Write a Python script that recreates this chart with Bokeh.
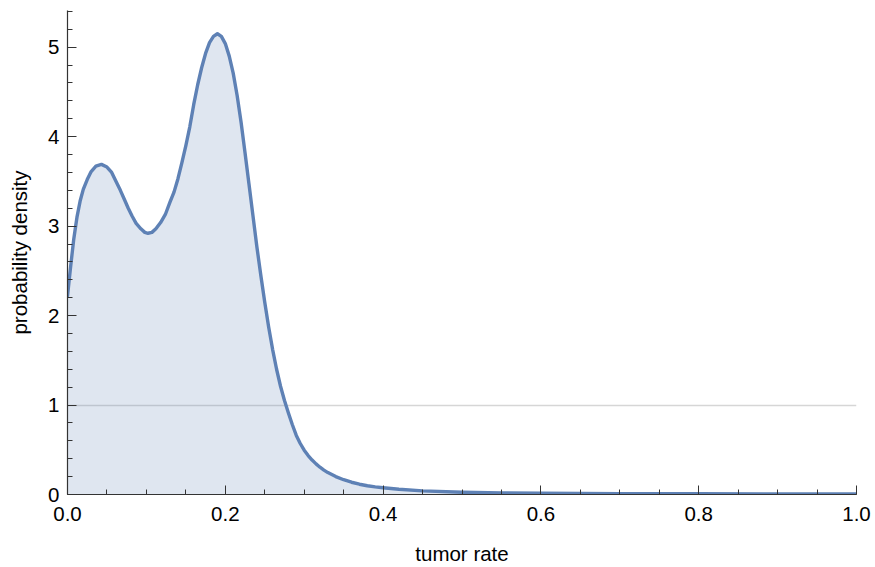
from bokeh.plotting import figure
from bokeh.models import Range1d, FixedTicker
from bokeh.embed import file_html
from bokeh.resources import INLINE

# Density curve sampled along tumor rate
tumor_rate = [
    0.000, 0.004, 0.008, 0.012, 0.016, 0.020, 0.025, 0.030, 0.036, 0.043,
    0.050, 0.056, 0.062, 0.067, 0.072, 0.077, 0.082, 0.087, 0.093, 0.098,
    0.102, 0.107, 0.112, 0.118, 0.124, 0.130, 0.135, 0.140, 0.145, 0.150,
    0.155, 0.160, 0.165, 0.170, 0.175, 0.180, 0.185, 0.190, 0.195, 0.200,
    0.205, 0.210, 0.215, 0.220, 0.225, 0.230, 0.235, 0.240, 0.245, 0.250,
    0.255, 0.260, 0.265, 0.270, 0.275, 0.280, 0.285, 0.290, 0.295, 0.300,
    0.305, 0.310, 0.315, 0.320, 0.325, 0.330, 0.340, 0.350, 0.360, 0.370,
    0.380, 0.390, 0.400, 0.420, 0.450, 0.500, 0.550, 0.600, 0.700, 0.800,
    0.900, 1.000,
]
density = [
    2.22, 2.55, 2.86, 3.10, 3.28, 3.41, 3.52, 3.61, 3.67, 3.69,
    3.66, 3.60, 3.49, 3.40, 3.30, 3.20, 3.11, 3.03, 2.97, 2.93,
    2.92, 2.93, 2.97, 3.04, 3.13, 3.27, 3.38, 3.53, 3.71, 3.90,
    4.11, 4.36, 4.58, 4.77, 4.93, 5.05, 5.12, 5.15, 5.12, 5.04,
    4.90, 4.71, 4.46, 4.16, 3.82, 3.47, 3.12, 2.77, 2.45, 2.15,
    1.87, 1.62, 1.40, 1.21, 1.05, 0.91, 0.78, 0.66, 0.57, 0.495,
    0.435, 0.385, 0.342, 0.305, 0.273, 0.245, 0.200, 0.165, 0.137, 0.115,
    0.098, 0.085, 0.075, 0.058, 0.040, 0.025, 0.018, 0.014, 0.010, 0.008,
    0.006, 0.005,
]

x_major = [0.0, 0.2, 0.4, 0.6, 0.8, 1.0]
x_labels = ["0.0", "0.2", "0.4", "0.6", "0.8", "1.0"]
x_minor = [i * 0.05 for i in range(21)]
y_major = [0, 1, 2, 3, 4, 5]
y_labels = ["0", "1", "2", "3", "4", "5"]
y_minor = [i * 0.2 for i in range(28)]
reference_level = 1.0
x_limit = 1.0

CURVE = "#5E81B5"
FONT = "Liberation Sans"

p = figure(
    width=875, height=567,
    x_range=Range1d(0, 1), y_range=Range1d(0, 5.41),
    output_backend="svg", toolbar_location=None,
    min_border_left=67, min_border_right=19,
    min_border_top=10, min_border_bottom=70,
)
p.outline_line_color = None
p.background_fill_color = "white"
p.border_fill_color = "white"

# Reference lines at density 1 and tumor rate 1
p.xgrid.ticker = FixedTicker(ticks=[x_limit])
p.ygrid.ticker = FixedTicker(ticks=[reference_level])
p.xgrid.grid_line_color = "#D6D6D6"
p.ygrid.grid_line_color = "#D6D6D6"
p.xgrid.grid_line_width = 2
p.ygrid.grid_line_width = 1.3

p.varea(x=tumor_rate, y1=0, y2=density, fill_color=CURVE, fill_alpha=0.2)
p.line(x=tumor_rate, y=density, line_color=CURVE, line_width=3.4,
       line_join="round", line_cap="round")

for ax, major, minor, labels in (
    (p.xaxis[0], x_major, x_minor, x_labels),
    (p.yaxis[0], y_major, y_minor, y_labels),
):
    ax.ticker = FixedTicker(ticks=major, minor_ticks=minor)
    ax.major_label_overrides = {v: t for v, t in zip(major, labels)}
    ax.axis_line_color = "#333333"
    ax.axis_line_width = 1.2
    ax.major_tick_line_color = "#333333"
    ax.minor_tick_line_color = "#333333"
    ax.major_tick_in = 9
    ax.major_tick_out = 0
    ax.minor_tick_in = 5
    ax.minor_tick_out = 0
    ax.major_label_text_font = FONT
    ax.major_label_text_font_size = "20.5px"
    ax.major_label_text_color = "black"
    ax.axis_label_text_font = FONT
    ax.axis_label_text_font_size = "20.5px"
    ax.axis_label_text_font_style = "normal"
    ax.axis_label_text_color = "black"

p.xaxis.axis_label = "tumor rate"
p.yaxis.axis_label = "probability density"
p.xaxis.major_label_standoff = 12
p.yaxis.major_label_standoff = 8
p.xaxis.axis_label_standoff = 18
p.yaxis.axis_label_standoff = 14

open("out.html", "w").write(file_html(p, INLINE))
